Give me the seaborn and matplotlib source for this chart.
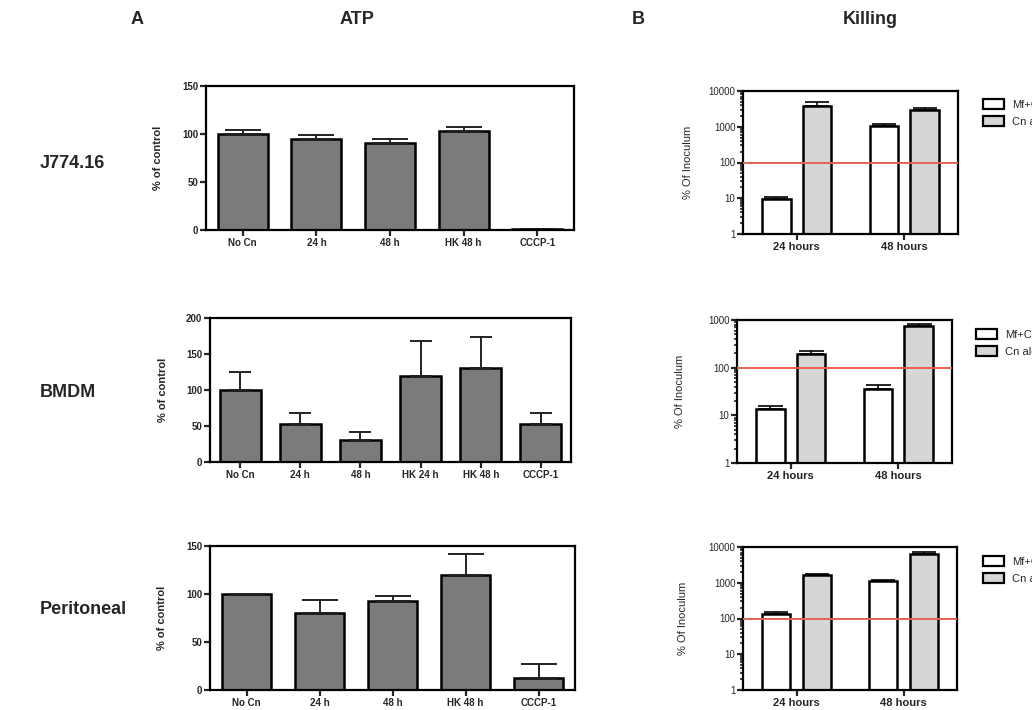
import numpy as np
import pandas as pd
import seaborn as sns
import matplotlib.pyplot as plt
from matplotlib.patches import Patch
from matplotlib.ticker import FuncFormatter, LogLocator, NullFormatter

# ATP (% of control): mean and upper error per condition
atp_j774_cond = ['No Cn', '24 h', '48 h', 'HK 48 h', 'CCCP-1']
atp_j774_mean = [100, 94.5, 90.5, 103, 1]
atp_j774_err = [4, 4, 4, 4, 0]

atp_bmdm_cond = ['No Cn', '24 h', '48 h', 'HK 24 h', 'HK 48 h', 'CCCP-1']
atp_bmdm_mean = [100, 53, 30, 120, 130, 53]
atp_bmdm_err = [25.5, 15.5, 11, 47.5, 44, 15.5]

atp_perit_cond = ['No Cn', '24 h', '48 h', 'HK 48 h', 'CCCP-1']
atp_perit_mean = [100, 80, 92.5, 119.5, 12.5]
atp_perit_err = [0, 14, 5.5, 22, 14.5]

# Killing (% of inoculum), log scale
kill_times = ['24 hours', '48 hours']
kill_groups = ['Mf+Cn', 'Cn alone']
kill_j774_mf = [9.6, 1060]
kill_j774_mf_err = [1.4, 120]
kill_j774_cn = [3700, 2970]
kill_j774_cn_err = [1100, 480]

kill_bmdm_mf = [13.9, 36]
kill_bmdm_mf_err = [1.9, 7]
kill_bmdm_cn = [190, 760]
kill_bmdm_cn_err = [34, 70]

kill_perit_mf = [131, 1100]
kill_perit_mf_err = [18, 100]
kill_perit_cn = [1620, 6530]
kill_perit_cn_err = [100, 900]

row_names = ['J774.16', 'BMDM', 'Peritoneal']

sns.set_style('ticks')
plt.rcParams['font.family'] = ['Liberation Sans', 'DejaVu Sans']

W, H = 1032, 710
fig = plt.figure(figsize=(W / 100, H / 100), dpi=100)


def box(l, r, t, b):
    return [l / W, (H - b) / H, (r - l) / W, (b - t) / H]


def style_axes(ax):
    for s in ax.spines.values():
        s.set_linewidth(1.6)
        s.set_color('black')
        s.set_visible(True)


def place_ylabel(ax, rect, label_x):
    ax.yaxis.set_label_coords(label_x / W, rect[1] + rect[3] / 2, transform=fig.transFigure)


def atp_panel(rect, cond, mean, err, ymax, cap, label_x):
    ax = fig.add_axes(rect)
    df = pd.DataFrame({'cond': cond, 'val': mean})
    sns.barplot(data=df, x='cond', y='val', color='#7b7b7b', saturation=1,
                edgecolor='black', linewidth=1.8, width=0.68, errorbar=None, ax=ax)
    xs = [p.get_x() + p.get_width() / 2 for p in ax.patches]
    up = np.array(err, dtype=float)
    ax.errorbar(xs, mean, yerr=[np.zeros_like(up), up], fmt='none', ecolor='#222222',
                elinewidth=1.4, capsize=cap, capthick=1.4, zorder=1)
    ax.set_ylim(0, ymax)
    ax.set_yticks(np.arange(0, ymax + 1, 50))
    ax.set_xlim(-0.5, len(cond) - 0.5)
    ax.set_xlabel('')
    ax.set_ylabel('% of control', fontsize=8, fontweight='bold')
    place_ylabel(ax, rect, label_x)
    ax.tick_params(axis='both', direction='out', length=4, width=1.6, labelsize=7, pad=1.5)
    for t in ax.get_xticklabels() + ax.get_yticklabels():
        t.set_fontweight('bold')
    style_axes(ax)
    return ax


def kill_panel(rect, mf, mf_err, cn, cn_err, ymax, cap, label_x, leg_x, leg_y):
    ax = fig.add_axes(rect)
    df = pd.DataFrame({
        'time': kill_times * 2,
        'group': [kill_groups[0]] * 2 + [kill_groups[1]] * 2,
        'val': mf + cn,
    })
    ax.set_yscale('log')
    sns.barplot(data=df, x='time', y='val', hue='group', palette=['white', '#d6d6d6'],
                saturation=1, edgecolor='black', linewidth=1.8, width=0.76, gap=0.3,
                errorbar=None, legend=False, ax=ax)
    for cont, e in zip(ax.containers, [mf_err, cn_err]):
        xs = [p.get_x() + p.get_width() / 2 for p in cont]
        ys = [p.get_height() for p in cont]
        ax.errorbar(xs, ys, yerr=[np.zeros(len(e)), e], fmt='none', ecolor='black',
                    elinewidth=1.2, capsize=cap, capthick=1.2, zorder=1)
    ax.axhline(100, color='#e8604f', lw=1.4, zorder=3)
    ax.set_ylim(1, ymax)
    ax.set_xlim(-0.5, 1.5)
    ax.yaxis.set_major_locator(LogLocator(base=10, numticks=10))
    ax.yaxis.set_minor_locator(LogLocator(base=10, subs=np.arange(2, 10), numticks=20))
    ax.yaxis.set_major_formatter(FuncFormatter(lambda v, p: f'{int(round(v))}'))
    ax.yaxis.set_minor_formatter(NullFormatter())
    ax.set_xlabel('')
    ax.set_ylabel('% Of Inoculum', fontsize=8)
    place_ylabel(ax, rect, label_x)
    ax.tick_params(axis='both', which='major', direction='out', length=4, width=1.6,
                   labelsize=7, pad=1.5)
    ax.tick_params(axis='y', which='minor', direction='out', length=2.5, width=1.2)
    ax.tick_params(axis='x', labelsize=8)
    for t in ax.get_xticklabels():
        t.set_fontweight('bold')
    style_axes(ax)
    handles = [Patch(facecolor='white', edgecolor='black', linewidth=1.6),
               Patch(facecolor='#d6d6d6', edgecolor='black', linewidth=1.6)]
    fig.legend(handles, kill_groups, loc='upper left',
               bbox_to_anchor=(leg_x / W, 1 - leg_y / H), frameon=False,
               fontsize=8, handlelength=1.9, handleheight=1.0, handletextpad=0.7,
               labelspacing=0.55, borderaxespad=0, borderpad=0)
    return ax


atp_panel(box(206, 574, 86, 230), atp_j774_cond, atp_j774_mean, atp_j774_err, 150, 13, 163)
atp_panel(box(210, 571, 318, 462), atp_bmdm_cond, atp_bmdm_mean, atp_bmdm_err, 200, 8, 168)
atp_panel(box(210, 575, 546, 690), atp_perit_cond, atp_perit_mean, atp_perit_err, 150, 13, 167)

kill_panel(box(743, 958, 91, 234), kill_j774_mf, kill_j774_mf_err, kill_j774_cn, kill_j774_cn_err,
           10000, 8.5, 693, 983, 99)
kill_panel(box(737, 952, 320, 463), kill_bmdm_mf, kill_bmdm_mf_err, kill_bmdm_cn, kill_bmdm_cn_err,
           1000, 9, 685, 976, 329)
kill_panel(box(743, 957, 547, 690), kill_perit_mf, kill_perit_mf_err, kill_perit_cn, kill_perit_cn_err,
           10000, 8.5, 688, 983, 556)

for txt, x in [('A', 137), ('ATP', 357), ('B', 638), ('Killing', 870)]:
    fig.text(x / W, 1 - 20 / H, txt, ha='center', va='center', fontsize=13, fontweight='bold')
for txt, y in zip(row_names, [163, 392, 610]):
    fig.text(40 / W, 1 - y / H, txt, ha='left', va='center', fontsize=13, fontweight='bold')

fig.savefig('out.png', dpi=100)
